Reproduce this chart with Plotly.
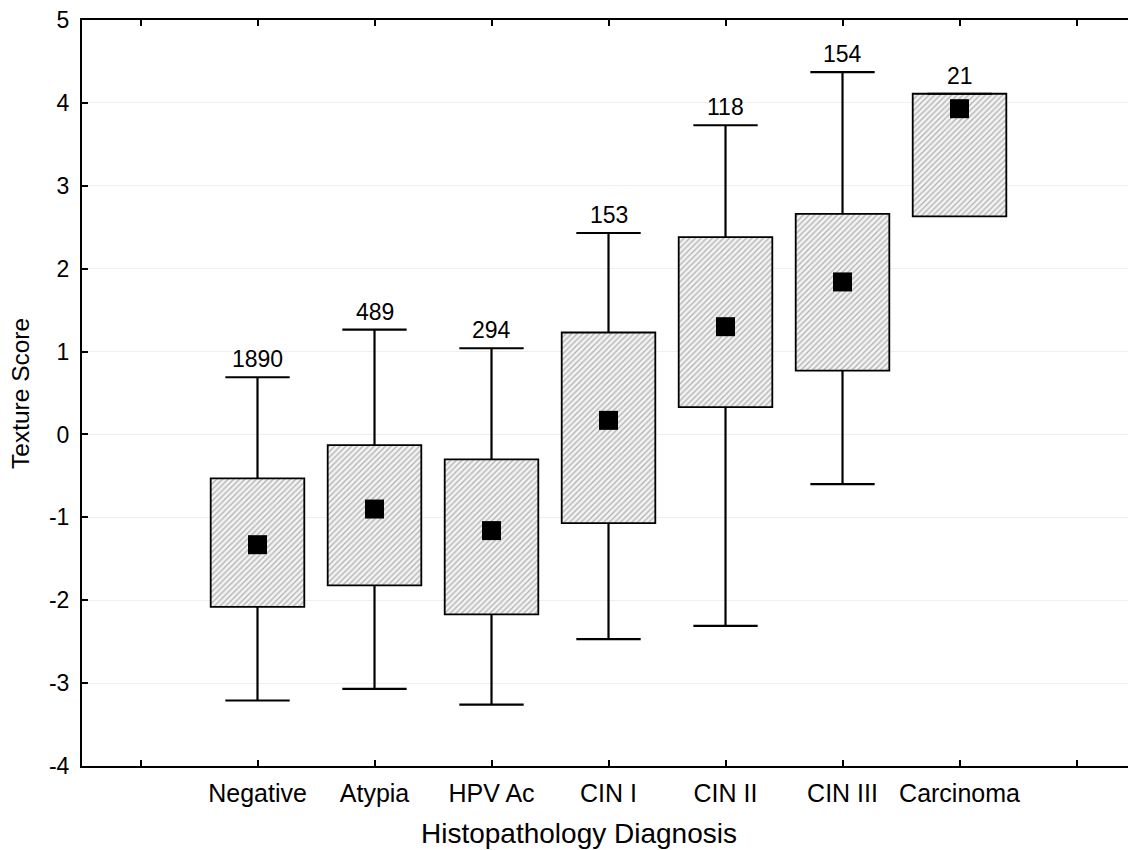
import plotly.graph_objects as go

categories = ["Negative", "Atypia", "HPV Ac", "CIN I", "CIN II", "CIN III", "Carcinoma"]
counts = ["1890", "489", "294", "153", "118", "154", "21"]
whisker_low = [-3.21, -3.07, -3.26, -2.47, -2.31, -0.60, 2.63]
box_low = [-2.08, -1.82, -2.17, -1.07, 0.33, 0.77, 2.63]
median = [-1.33, -0.90, -1.16, 0.17, 1.30, 1.84, 3.93]
box_high = [-0.53, -0.13, -0.30, 1.23, 2.38, 2.66, 4.11]
whisker_high = [0.69, 1.265, 1.04, 2.43, 3.73, 4.37, 4.11]

y_ticks = [-4, -3, -2, -1, 0, 1, 2, 3, 4, 5]
y_tick_text = ["-4", "-3", "-2", "-1", "0", "1", "2", "3", "4", "5"]

xs = list(range(len(categories)))
FONT = "Liberation Sans, Arial, sans-serif"

fig = go.Figure()

# whiskers (outside the boxes) and caps
cap = 0.275
wx, wy = [], []
for x, lo, q1, q3, hi in zip(xs, whisker_low, box_low, box_high, whisker_high):
    if hi > q3:
        wx += [x, x, None]; wy += [q3, hi, None]
    wx += [x - cap, x + cap, None]; wy += [hi, hi, None]
    if lo < q1:
        wx += [x, x, None]; wy += [q1, lo, None]
        wx += [x - cap, x + cap, None]; wy += [lo, lo, None]
fig.add_trace(go.Scatter(x=wx, y=wy, mode="lines", line=dict(color="black", width=2.2),
                         hoverinfo="skip", showlegend=False))

# boxes
fig.add_trace(go.Bar(
    x=xs, y=[h - l for h, l in zip(box_high, box_low)], base=box_low, width=0.8,
    marker=dict(color="#f3f3f3", line=dict(color="black", width=1.8),
                pattern=dict(shape="/", fgcolor="#707070", bgcolor="#f3f3f3", size=4, solidity=0.33)),
    showlegend=False))

# medians
fig.add_trace(go.Scatter(x=xs, y=median, mode="markers",
                         marker=dict(symbol="square", size=19, color="black"),
                         showlegend=False))

# count labels
for x, hi, c in zip(xs, whisker_high, counts):
    fig.add_annotation(x=x, y=hi, text=c, showarrow=False, yanchor="bottom", yshift=3,
                       font=dict(family=FONT, size=23, color="black"))

# axis titles
fig.add_annotation(xref="paper", yref="paper", x=(579 - 82) / 1046, y=-(833 - 766) / 746,
                   text="Histopathology Diagnosis", showarrow=False,
                   xanchor="center", yanchor="middle",
                   font=dict(family=FONT, size=28, color="black"))
fig.add_annotation(xref="paper", yref="paper", x=-(82 - 20) / 1046, y=(766 - 394) / 746,
                   text="Texture Score", showarrow=False, textangle=-90,
                   xanchor="center", yanchor="middle",
                   font=dict(family=FONT, size=24.5, color="black"))

fig.update_layout(
    width=1128, height=850,
    margin=dict(l=82, r=0, t=20, b=84, autoexpand=False),
    plot_bgcolor="white", paper_bgcolor="white",
    font=dict(family=FONT, color="black"),
    barmode="overlay",
    xaxis=dict(
        range=[-1.5, 7.44],
        tickvals=list(range(-1, 8)),
        ticktext=[""] + categories + [""],
        ticks="inside", ticklen=6, tickwidth=2, tickcolor="black",
        showline=True, linecolor="black", linewidth=2, mirror="ticks",
        showgrid=False, zeroline=False, automargin=False,
        tickfont=dict(size=25), ticklabelstandoff=4,
    ),
    yaxis=dict(
        range=[-4, 5],
        tickvals=y_ticks, ticktext=y_tick_text,
        ticks="inside", ticklen=6, tickwidth=2, tickcolor="black",
        showline=True, linecolor="black", linewidth=2,
        showgrid=True, gridcolor="#efefef", gridwidth=1,
        zeroline=False, automargin=False,
        tickfont=dict(size=23), ticklabelstandoff=6,
    ),
)

fig.write_html("out.html", config={"displayModeBar": False},
               post_script="document.body.style.margin='0';document.body.style.overflow='hidden';")
